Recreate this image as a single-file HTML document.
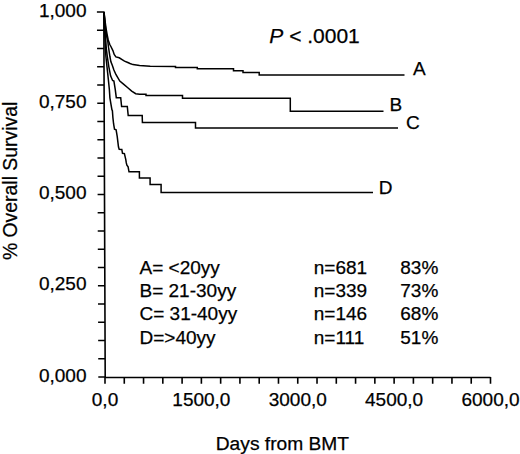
<!DOCTYPE html>
<html><head><meta charset="utf-8"><style>
html,body{margin:0;padding:0;background:#fff;}
svg{display:block;}
text{font-family:"Liberation Sans",sans-serif;font-size:19px;fill:#000;stroke:#000;stroke-width:0.25px;}
</style></head><body>
<svg width="520" height="454" viewBox="0 0 520 454">
<rect width="520" height="454" fill="#fff"/>
<path d="M103.8 11.2L105.2 377.5H490.5 M96.90 12.00H103.80 M96.97 30.25H103.87 M97.04 48.50H103.94 M97.11 66.75H104.01 M97.18 85.00H104.08 M97.25 103.25H104.15 M97.32 121.50H104.22 M97.39 139.75H104.29 M97.45 158.00H104.35 M97.52 176.25H104.42 M97.59 194.50H104.49 M97.66 212.75H104.56 M97.73 231.00H104.63 M97.80 249.25H104.70 M97.87 267.50H104.77 M97.94 285.75H104.84 M98.01 304.00H104.91 M98.08 322.25H104.98 M98.15 340.50H105.05 M98.22 358.75H105.12 M98.29 377.00H105.19 M105.00 377V383.8 M124.28 377V383.8 M143.55 377V383.8 M162.82 377V383.8 M182.10 377V383.8 M201.38 377V383.8 M220.65 377V383.8 M239.93 377V383.8 M259.20 377V383.8 M278.48 377V383.8 M297.75 377V383.8 M317.02 377V383.8 M336.30 377V383.8 M355.57 377V383.8 M374.85 377V383.8 M394.12 377V383.8 M413.40 377V383.8 M432.68 377V383.8 M451.95 377V383.8 M471.23 377V383.8 M490.50 377V383.8" fill="none" stroke="#000" stroke-width="1.6"/>
<polyline points="104,12 105.2,22 106.3,30 107.2,35 108.2,40 109.8,44.5 110.9,46.5 112.9,50.6 114.2,54.5 115.9,56.9 119.2,57.8 122.5,59.8 124.5,61.1 127.8,62.5 130,63.5 133,64.6 139.6,65.6 150.2,66.3 175.5,66.4 175.5,67.6 197.3,67.6 197.3,68.8 233.5,68.8 233.5,70.7 243,70.7 243,72.5 259.2,72.5 259.2,74.9 404.5,74.9" fill="none" stroke="#000" stroke-width="1.5" stroke-linejoin="miter"/><polyline points="104,12 105.5,28 106.6,36 107.6,40 108.6,47.9 109.9,56.5 110.9,61.8 112.2,65.1 113.9,70 115.9,74.5 119.8,81.1 123.8,84.4 127.8,87.8 131.7,91.1 135.7,93.7 139.6,94.3 146,94.3 146,95.5 182.5,95.5 182.5,98.3 290.3,98.3 290.3,111.3 383.5,111.3" fill="none" stroke="#000" stroke-width="1.5" stroke-linejoin="miter"/><polyline points="104,12 105.2,32 106.3,48.6 107.3,56.5 108.3,63.1 108.8,66.6 110.6,75.9 112.6,80.5 113.9,81.1 115.2,89.1 116.3,97.7 120.7,97.7 121.6,106.5 127.3,106.5 128.2,115.5 142.2,115.5 142.4,122.5 195.5,122.5 195.5,128 398,128" fill="none" stroke="#000" stroke-width="1.5" stroke-linejoin="miter"/><polyline points="104,12 104.8,35 105.3,46.6 105.9,56.5 107.3,69.6 108.4,80 109.4,90 109.9,97.8 110.9,103.8 111.9,109.7 112.4,110.7 112.9,117.6 113.6,124 114.5,129.2 116.1,129.8 117.2,136.4 118.5,147 119.2,149.2 121.8,149.4 122.5,153.3 124.4,153.6 125.8,159.6 126.3,162.9 126.9,165.2 128.1,166.9 129,171.8 139.4,171.8 139.4,178 150.1,178 150.1,184.5 161.1,184.5 161.1,192.4 373,192.4" fill="none" stroke="#000" stroke-width="1.5" stroke-linejoin="miter"/>
<text x="86.5" y="16.7" text-anchor="end">1,000</text><text x="86.5" y="107.95" text-anchor="end">0,750</text><text x="86.5" y="199.2" text-anchor="end">0,500</text><text x="86.5" y="290.45" text-anchor="end">0,250</text><text x="86.5" y="381.7" text-anchor="end">0,000</text><text x="105.0" y="405.7" text-anchor="middle">0,0</text><text x="201.38" y="405.7" text-anchor="middle">1500,0</text><text x="297.75" y="405.7" text-anchor="middle">3000,0</text><text x="394.12" y="405.7" text-anchor="middle">4500,0</text><text x="490.5" y="405.7" text-anchor="middle">6000,0</text><text x="282.4" y="450" text-anchor="middle" style="font-size:19.2px">Days from BMT</text><text x="269.3" y="42.6" style="font-size:21px"><tspan font-style="italic">P</tspan> &lt; .0001</text><text x="413" y="74.5" text-anchor="start">A</text><text x="389.5" y="110.8" text-anchor="start">B</text><text x="406" y="128.9" text-anchor="start">C</text><text x="378.7" y="193.6" text-anchor="start">D</text><text x="139.5" y="273.7" text-anchor="start">A= &lt;20yy</text><text x="313.8" y="273.7" text-anchor="start">n=681</text><text x="400.3" y="273.7" text-anchor="start">83%</text><text x="139.5" y="297.0" text-anchor="start">B= 21-30yy</text><text x="313.8" y="297.0" text-anchor="start">n=339</text><text x="400.3" y="297.0" text-anchor="start">73%</text><text x="139.5" y="320.3" text-anchor="start">C= 31-40yy</text><text x="313.8" y="320.3" text-anchor="start">n=146</text><text x="400.3" y="320.3" text-anchor="start">68%</text><text x="139.5" y="343.6" text-anchor="start">D=&gt;40yy</text><text x="313.8" y="343.6" text-anchor="start">n=111</text><text x="400.3" y="343.6" text-anchor="start">51%</text><text transform="translate(16.6 180.9) rotate(-90)" text-anchor="middle" style="font-size:19.4px">% Overall Survival</text>
</svg>
</body></html>
